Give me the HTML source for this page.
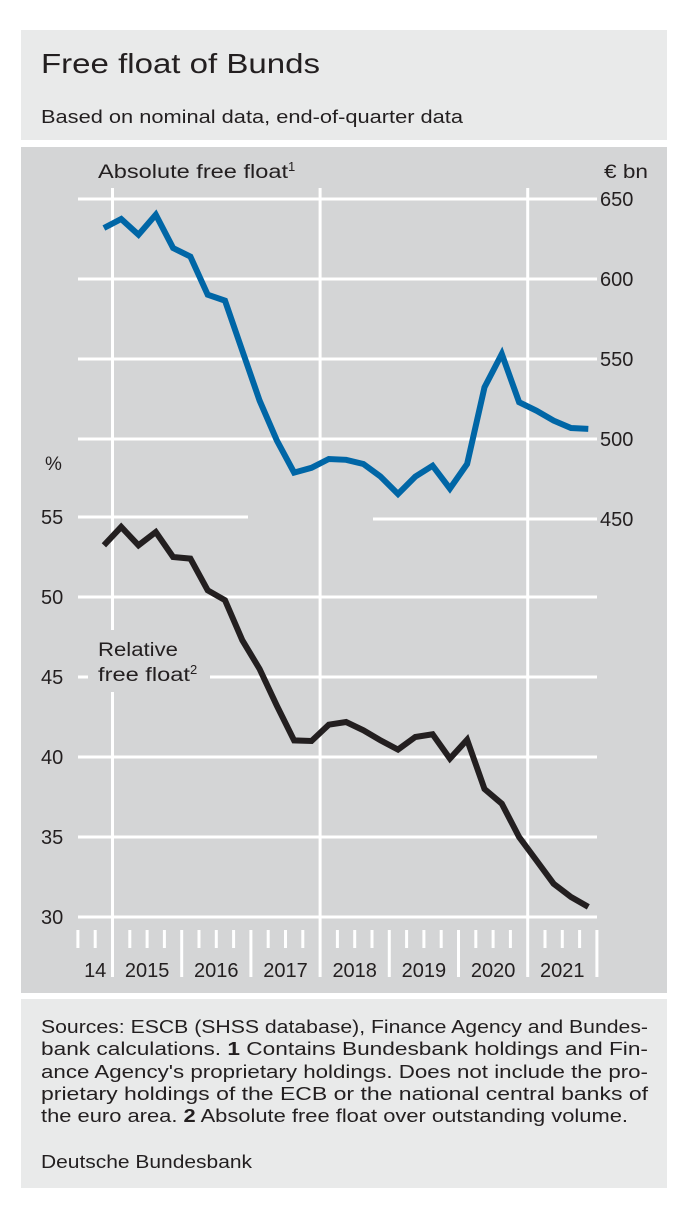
<!DOCTYPE html>
<html><head><meta charset="utf-8"><style>
html,body{margin:0;padding:0;background:#fff;}
svg{display:block;font-family:"Liberation Sans",sans-serif;}
</style></head><body>
<svg id="chart" width="686" height="1222" viewBox="0 0 686 1222" xmlns="http://www.w3.org/2000/svg">
<rect x="21" y="30" width="646" height="110" fill="#e9eaea"/>
<text x="41" y="73" font-size="28" fill="#231f20" textLength="279" lengthAdjust="spacingAndGlyphs">Free float of Bunds</text>
<text x="41" y="123" font-size="18" fill="#231f20" textLength="422" lengthAdjust="spacingAndGlyphs">Based on nominal data, end-of-quarter data</text>
<rect x="21" y="147" width="646" height="846" fill="#d4d5d6"/>
<g id="grid"></g>
<g id="ticks"></g>
<g id="ylabels"></g>
<g id="series"></g>
<text x="98" y="178" font-size="19" fill="#231f20"><tspan textLength="190" lengthAdjust="spacingAndGlyphs">Absolute free float</tspan><tspan font-size="13" dy="-7">1</tspan></text>
<text x="604" y="178" font-size="19" fill="#231f20" textLength="44" lengthAdjust="spacingAndGlyphs">€ bn</text>
<text x="45" y="470" font-size="19" fill="#231f20">%</text>
<text x="98" y="656" font-size="19" fill="#231f20" textLength="80" lengthAdjust="spacingAndGlyphs">Relative</text>
<text x="98" y="681" font-size="19" fill="#231f20"><tspan textLength="92" lengthAdjust="spacingAndGlyphs">free float</tspan><tspan font-size="13" dy="-7">2</tspan></text>
<rect x="21" y="999" width="646" height="189" fill="#e9eaea"/>
<g font-size="18" fill="#231f20">
<text x="41" y="1033" textLength="607" lengthAdjust="spacingAndGlyphs">Sources: ESCB (SHSS database), Finance Agency and Bundes-</text>
<text x="41" y="1055" textLength="607" lengthAdjust="spacingAndGlyphs">bank  calculations.  <tspan font-weight="bold">1</tspan> Contains  Bundesbank  holdings  and  Fin-</text>
<text x="41" y="1078" textLength="607" lengthAdjust="spacingAndGlyphs">ance Agency's proprietary holdings. Does not include the pro-</text>
<text x="41" y="1100" textLength="607" lengthAdjust="spacingAndGlyphs">prietary holdings of the ECB or the national central banks of</text>
<text x="41" y="1122" textLength="587" lengthAdjust="spacingAndGlyphs">the euro area. <tspan font-weight="bold">2</tspan> Absolute free float over outstanding volume.</text>
<text x="41" y="1168" textLength="211" lengthAdjust="spacingAndGlyphs">Deutsche Bundesbank</text>
</g>
</svg>
<script>
const years = ["14","2015","2016","2017","2018","2019","2020","2021"];
const rightTicks = [650,600,550,500,450];
const leftTicks = [55,50,45,40,35,30];
const absoluteFloat = [631.9,637.5,627.7,640.2,619.4,614,590.2,586.5,555.2,524,499,479,482,487.5,487,484.4,476.5,465.6,476.5,483.3,469,484.4,532.3,553.1,523,517.7,511.5,506.9,506.3];
const relativeFloat = [53.23,54.38,53.23,54.06,52.5,52.4,50.42,49.8,47.3,45.5,43.2,41.04,41.0,42.02,42.19,41.67,41.04,40.46,41.25,41.42,39.9,41.08,38.0,37.08,35.0,33.54,32.08,31.25,30.63];

const NS="http://www.w3.org/2000/svg";
const Q=17.3, X0=77.9;
const xq = i => X0 + Q*(i+1.5);
const yR = v => 199 + (650-v)*1.6;
const yL = v => 517 + (55-v)*16;
function mk(tag, attrs, parent){const e=document.createElementNS(NS,tag);for(const k in attrs)e.setAttribute(k,attrs[k]);parent.appendChild(e);return e;}
const grid=document.getElementById('grid'), ticks=document.getElementById('ticks'), yl=document.getElementById('ylabels'), ser=document.getElementById('series');
const W="#fff", XR=597;
function hline(x1,x2,y){const l=mk('line',{x1:x1,x2:x2,y1:y,y2:y,stroke:W,'stroke-width':3},grid);

}
rightTicks.forEach(v=>{
 const y=yR(v);
 if(v===450){hline(373,XR,y);}else hline(78,XR,y);
 const t=mk('text',{x:600,y:y+7,'font-size':20,fill:'#231f20'},yl);t.textContent=v;
 
 
});
leftTicks.forEach(v=>{
 const y=yL(v);
 if(v===55){hline(78,248,y);}
 else if(v===45){hline(78,88,y);hline(210,XR,y);}
 else hline(78,XR,y);
 const t=mk('text',{x:41,y:y+7,'font-size':20,fill:'#231f20'},yl);t.textContent=v;
 
 
});
[0,3,6].forEach(k=>{
 const x=X0+Q*2+Q*4*k;
 if(k===0){
  const a=mk('line',{x1:x,x2:x,y1:188,y2:630,stroke:W,'stroke-width':3},grid);
  
  
  const b=mk('line',{x1:x,x2:x,y1:692,y2:930,stroke:W,'stroke-width':3},grid);
  
  
 } else {
  const a=mk('line',{x1:x,x2:x,y1:188,y2:930,stroke:W,'stroke-width':3},grid);
  
  
 }
});
const nQ=31;
for(let i=0;i<nQ;i++){
 const x=X0+Q*i;
 const isYear=(i-2)%4===0 && i>=2;
 const t=mk('line',{x1:x,x2:x,y1:930,y2:isYear?977:948,stroke:W,'stroke-width':3},ticks);
 
 
}
years.forEach((yv,k)=>{
 const cx = k===0 ? X0+Q : X0+Q*2+Q*4*(k-1)+Q*2;
 const t=mk('text',{x:cx,y:977,'font-size':20,fill:'#231f20','text-anchor':'middle'},ticks);
 t.textContent=yv;
 
 
});
function line(data,fy,color,name){
 const p=mk('polyline',{points:data.map((v,i)=>xq(i).toFixed(1)+','+fy(v).toFixed(1)).join(' '),fill:'none',stroke:color,'stroke-width':6,'stroke-linejoin':'miter','stroke-miterlimit':3},ser);
 
 
}
line(absoluteFloat,yR,'#0066a6','absolute-free-float-line');
line(relativeFloat,yL,'#231f20','relative-free-float-line');
</script>
</body></html>
